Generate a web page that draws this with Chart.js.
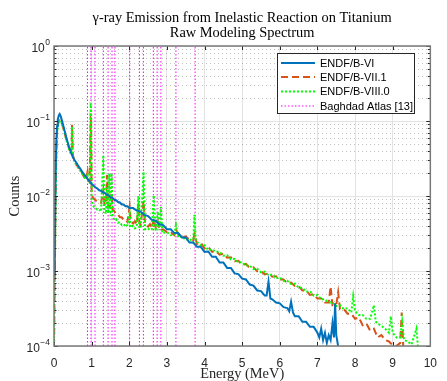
<!DOCTYPE html>
<html>
<head>
<meta charset="utf-8">
<script src="https://cdn.jsdelivr.net/npm/chart.js@4.4.1/dist/chart.umd.min.js"></script>
<style>
  html, body { margin: 0; padding: 0; background: #fff; }
  canvas { display: block; }
</style>
</head>
<body>
<canvas id="chart" width="447" height="381"></canvas>
<script>
// ===== data =====
// ENDF/B-VI
const eVI = [0, 0.02, 0.04, 0.06, 0.08, 0.10, 0.13, 0.15, 0.18, 0.22, 0.26, 0.30, 0.35, 0.40, 0.45, 0.50,
  0.55, 0.60, 0.65, 0.70, 0.75, 0.80, 0.85, 0.90, 0.95, 1.00, 1.05, 1.10, 1.15, 1.20, 1.25, 1.30, 1.35,
  1.40, 1.45, 1.50, 1.55, 1.60, 1.65, 1.70, 1.75, 1.80, 1.85, 1.90, 1.95, 2.00, 2.10, 2.20, 2.30, 2.40,
  2.50, 2.60, 2.70, 2.80, 2.90, 3.00, 3.10, 3.20, 3.30, 3.40, 3.50, 3.60, 3.70, 3.80, 3.90, 4.00, 4.10,
  4.20, 4.30, 4.40, 4.50, 4.60, 4.70, 4.80, 4.90, 5.00, 5.10, 5.20, 5.30, 5.40, 5.50, 5.60, 5.65, 5.70,
  5.75, 5.80, 5.90, 6.00, 6.10, 6.20, 6.25, 6.30, 6.35, 6.40, 6.50, 6.60, 6.70, 6.80, 6.90, 7.00, 7.05,
  7.10, 7.15, 7.20, 7.25, 7.30, 7.35, 7.40, 7.44, 7.47, 7.50, 7.55];
const cVI = [9e-4, 1.5e-3, 0.015, 0.05, 0.085, 0.105, 0.12, 0.124, 0.115, 0.098, 0.082, 0.068, 0.055, 0.045, 0.038, 0.033,
  0.030, 0.0275, 0.025, 0.023, 0.021, 0.0195, 0.018, 0.0166, 0.0155, 0.0145, 0.0138, 0.0131, 0.0126, 0.0119, 0.0117, 0.0112, 0.0110,
  0.0104, 0.0102, 0.0096, 0.0095, 0.0089, 0.0088, 0.0083, 0.0082, 0.0077, 0.0077, 0.0073, 0.0073, 0.0069, 0.0069, 0.0064, 0.0062, 0.0056,
  0.0054, 0.0048, 0.0047, 0.0042, 0.0041, 0.0036, 0.0036, 0.0032, 0.0032, 0.0028, 0.0028, 0.0024, 0.0024, 0.0021, 0.0021, 0.0018, 0.00182,
  0.00155, 0.00155, 0.0013, 0.0013, 0.0011, 0.0011, 0.00093, 0.00091, 0.00079, 0.00077, 0.00066, 0.00064, 0.00055, 0.00054, 0.00047, 0.00047, 0.00072,
  0.00043, 0.00042, 0.00038, 0.00037, 0.00033, 0.00032, 0.00029, 0.00039, 0.00028, 0.00025, 0.00025, 0.00021, 0.00021, 0.00018, 0.00018, 0.00015, 0.00013,
  0.00017, 0.00012, 0.00015, 0.00011, 0.00014, 0.00012, 0.0002, 0.00013, 0.00037, 0.00014, 0.0001];

// ENDF/B-VII.1
const eVII = [0, 0.02, 0.04, 0.06, 0.08, 0.10, 0.13, 0.16, 0.19, 0.22, 0.26, 0.30, 0.35, 0.40, 0.45, 0.47, 0.48,
  0.50, 0.52, 0.55, 0.60, 0.65, 0.70, 0.75, 0.80, 0.85, 0.89, 0.91, 0.95, 0.975, 0.985, 1.00, 1.03, 1.06, 1.10, 1.15,
  1.20, 1.25, 1.31, 1.34, 1.38, 1.41, 1.44, 1.48, 1.53, 1.56, 1.60, 1.65, 1.70, 1.75, 1.80, 1.85, 1.90, 1.95,
  2.01, 2.04, 2.10, 2.15, 2.20, 2.24, 2.27, 2.30, 2.38, 2.42, 2.50, 2.55, 2.60, 2.65, 2.70, 2.76, 2.80, 2.90,
  3.00, 3.10, 3.20, 3.24, 3.30, 3.40, 3.50, 3.60, 3.70, 3.73, 3.80, 3.90, 4.00, 4.10, 4.20, 4.30, 4.40, 4.50,
  4.60, 4.70, 4.80, 4.90, 5.00, 5.10, 5.20, 5.30, 5.40, 5.50, 5.60, 5.70, 5.80, 5.90, 6.00, 6.10, 6.20, 6.30,
  6.40, 6.50, 6.60, 6.70, 6.80, 6.90, 7.00, 7.10, 7.20, 7.30, 7.35, 7.40, 7.50, 7.55, 7.60, 7.70, 7.80, 7.90,
  8.00, 8.10, 8.20, 8.30, 8.40, 8.50, 8.60, 8.70, 8.80, 8.90, 9.00, 9.10, 9.20, 9.24, 9.28];
const cVII = [1e-4, 8e-4, 0.008, 0.035, 0.07, 0.088, 0.10, 0.105, 0.10, 0.09, 0.077, 0.064, 0.052, 0.043, 0.037, 0.045, 0.089,
  0.036, 0.032, 0.029, 0.026, 0.024, 0.022, 0.020, 0.018, 0.017, 0.021, 0.016, 0.0155, 0.105, 0.10, 0.011, 0.0095, 0.0092, 0.0088, 0.0086,
  0.0082, 0.0081, 0.012, 0.0078, 0.0076, 0.019, 0.0072, 0.0071, 0.011, 0.0066, 0.0063, 0.0058, 0.0057, 0.0052, 0.0052, 0.0048, 0.0048, 0.0045,
  0.0072, 0.0046, 0.0043, 0.0046, 0.0042, 0.0078, 0.0044, 0.0041, 0.0085, 0.0042, 0.0039, 0.0042, 0.0037, 0.005, 0.0038, 0.0045, 0.0035, 0.0036,
  0.0033, 0.0033, 0.0030, 0.0036, 0.0031, 0.0028, 0.0029, 0.0026, 0.0026, 0.0031, 0.0023, 0.0024, 0.0020, 0.0021, 0.0018, 0.00185, 0.00165, 0.0017,
  0.0015, 0.00152, 0.00135, 0.00137, 0.0012, 0.00124, 0.0011, 0.00112, 0.00099, 0.001, 0.0009, 0.00093, 0.00084, 0.00085, 0.00077, 0.00077, 0.00069, 0.0007,
  0.00063, 0.00063, 0.00055, 0.00055, 0.00048, 0.00049, 0.00043, 0.00043, 0.00038, 0.00038, 0.00062, 0.00035, 0.00035, 0.00052, 0.00031, 0.00031, 0.00027, 0.00027,
  0.00023, 0.00024, 0.00019, 0.0002, 0.00016, 0.00017, 0.00013, 0.00014, 0.00012, 0.000115, 0.000102, 0.0001, 0.00011, 0.00028, 0.0001];

// ENDF/B-VIII.0
const eVIII = [0, 0.02, 0.04, 0.06, 0.08, 0.10, 0.13, 0.16, 0.19, 0.22, 0.26, 0.30, 0.35, 0.40, 0.45, 0.47, 0.48,
  0.50, 0.52, 0.55, 0.60, 0.65, 0.70, 0.75, 0.80, 0.85, 0.89, 0.91, 0.95, 0.975, 0.985, 1.00, 1.03, 1.06, 1.10, 1.15,
  1.20, 1.25, 1.31, 1.34, 1.38, 1.41, 1.44, 1.47, 1.50, 1.53, 1.56, 1.60, 1.65, 1.70, 1.75, 1.80, 1.85, 1.90,
  1.95, 2.01, 2.04, 2.10, 2.15, 2.20, 2.24, 2.27, 2.30, 2.38, 2.42, 2.50, 2.55, 2.60, 2.65, 2.70, 2.76, 2.80,
  2.84, 2.88, 3.00, 3.10, 3.20, 3.24, 3.30, 3.40, 3.50, 3.60, 3.70, 3.73, 3.77, 3.90, 4.00, 4.10, 4.20, 4.30,
  4.40, 4.50, 4.60, 4.70, 4.80, 4.90, 5.00, 5.10, 5.20, 5.30, 5.40, 5.50, 5.60, 5.70, 5.80, 5.90, 6.00, 6.10,
  6.20, 6.30, 6.40, 6.50, 6.60, 6.70, 6.80, 6.90, 7.00, 7.10, 7.20, 7.30, 7.40, 7.50, 7.60, 7.70, 7.80, 7.90,
  7.95, 8.00, 8.10, 8.20, 8.30, 8.40, 8.50, 8.55, 8.60, 8.70, 8.80, 8.90, 8.95, 9.00, 9.10, 9.20, 9.25, 9.30,
  9.40, 9.50, 9.63, 9.67];
const cVIII = [1e-4, 7e-4, 0.007, 0.033, 0.068, 0.086, 0.098, 0.103, 0.098, 0.089, 0.076, 0.063, 0.051, 0.042, 0.036, 0.044, 0.085,
  0.035, 0.031, 0.028, 0.0255, 0.0235, 0.0215, 0.0196, 0.0178, 0.0166, 0.019, 0.0155, 0.015, 0.155, 0.15, 0.009, 0.0075, 0.0072, 0.0070, 0.0066,
  0.0067, 0.0062, 0.035, 0.0063, 0.0058, 0.013, 0.0059, 0.020, 0.0054, 0.020, 0.0054, 0.0048, 0.0049, 0.0044, 0.0045, 0.0041, 0.0042, 0.0039,
  0.0041, 0.0058, 0.0038, 0.0040, 0.0037, 0.0039, 0.010, 0.0037, 0.0038, 0.021, 0.0036, 0.0037, 0.0035, 0.0036, 0.0102, 0.0034, 0.0062, 0.0035,
  0.0072, 0.0032, 0.0033, 0.0030, 0.0031, 0.0041, 0.0028, 0.0029, 0.0026, 0.0027, 0.0024, 0.0056, 0.0025, 0.0022, 0.0022, 0.0019, 0.00195, 0.0018,
  0.0018, 0.0016, 0.00162, 0.00143, 0.00145, 0.0013, 0.00131, 0.00118, 0.00118, 0.00106, 0.00107, 0.00096, 0.00098, 0.00088, 0.0009, 0.0008, 0.00082, 0.00074,
  0.00074, 0.00067, 0.00068, 0.0006, 0.0006, 0.00053, 0.00054, 0.00047, 0.00048, 0.00042, 0.00042, 0.00038, 0.00038, 0.00034, 0.00035, 0.00031, 0.00032, 0.00028,
  0.00046, 0.00029, 0.00026, 0.00026, 0.00023, 0.00023, 0.00035, 0.00021, 0.0002, 0.000185, 0.00017, 0.00015, 0.00025, 0.00015, 0.00013, 0.00013, 0.00021, 0.00012,
  0.000115, 0.000105, 0.00017, 0.0001];

// Baghdad Atlas line energies (MeV)
const baghdadLines = [0.889, 0.983, 1.09, 1.312, 1.437, 1.542, 1.62, 2.01, 2.27, 2.375, 2.64, 2.74, 2.84, 3.24, 3.75];

// decades shown on the y axis
const yExponents = [0, -1, -2, -3, -4];

// ===== helpers =====
const sans = '"Liberation Sans", Arial, Helvetica, sans-serif';
const serif = '"Liberation Serif", "Times New Roman", serif';
const axisColor = '#262626';

function pts(es, cs) {
  return es.map((e, i) => ({ x: e, y: cs[i] }));
}

function isDecade(v) {
  const l = Math.log10(v);
  return Math.abs(l - Math.round(l)) < 1e-6;
}

const atlasPts = [];
baghdadLines.forEach(e => {
  atlasPts.push({ x: e, y: 1e-4 }, { x: e, y: 1 }, { x: e, y: null });
});

// ===== matlab-like axes: minor grid, box, inner ticks, labels, legend =====
const matlabAxes = {
  id: 'matlabAxes',
  beforeDatasetsDraw(chart) {
    const { ctx, chartArea: a, scales: { y } } = chart;
    ctx.save();
    ctx.strokeStyle = 'rgba(0,0,0,0.25)';
    ctx.lineWidth = 1;
    ctx.setLineDash([1, 3]);
    for (let n = -4; n < 0; n++) {
      for (let k = 2; k <= 9; k++) {
        const py = Math.round(y.getPixelForValue(k * Math.pow(10, n))) + 0.5;
        ctx.beginPath();
        ctx.moveTo(a.left, py);
        ctx.lineTo(a.right, py);
        ctx.stroke();
      }
    }
    ctx.restore();
  },
  afterDatasetsDraw(chart) {
    const { ctx, chartArea: a, scales: { x, y } } = chart;
    ctx.save();

    // ticks pointing inward
    ctx.strokeStyle = axisColor;
    ctx.lineWidth = 1;
    x.ticks.forEach(t => {
      const px = Math.round(x.getPixelForValue(t.value)) + 0.5;
      ctx.beginPath();
      ctx.moveTo(px, a.bottom); ctx.lineTo(px, a.bottom - 4);
      ctx.moveTo(px, a.top); ctx.lineTo(px, a.top + 4);
      ctx.stroke();
    });
    for (let n = -4; n <= 0; n++) {
      for (let k = 1; k <= 9; k++) {
        const v = k * Math.pow(10, n);
        if (v > 1) break;
        const py = Math.round(y.getPixelForValue(v)) + 0.5;
        const len = k === 1 ? 4 : 2.5;
        ctx.beginPath();
        ctx.moveTo(a.left, py); ctx.lineTo(a.left + len, py);
        ctx.moveTo(a.right, py); ctx.lineTo(a.right - len, py);
        ctx.stroke();
      }
    }

    // box
    ctx.strokeStyle = '#7a7a7a';
    ctx.lineWidth = 1.5;
    ctx.strokeRect(a.left, a.top, a.right - a.left, a.bottom - a.top);

    // y tick labels 10^n
    ctx.fillStyle = axisColor;
    ctx.textBaseline = 'middle';
    yExponents.forEach(n => {
      const py = y.getPixelForValue(Math.pow(10, n));
      const ex = String(n).replace('-', '\u2212');
      ctx.font = '8.5px ' + sans;
      ctx.textAlign = 'right';
      const exW = ctx.measureText(ex).width;
      const right = a.left - 4;
      ctx.fillText(ex, right, py - 3);
      ctx.font = '12px ' + sans;
      ctx.fillText('10', right - exW - 0.5, py + 2.5);
    });

    // legend
    const lx = 277, ly = 53, lw = 137, lh = 60;
    ctx.fillStyle = '#fff';
    ctx.fillRect(lx, ly, lw, lh);
    ctx.strokeStyle = '#262626';
    ctx.lineWidth = 1;
    ctx.strokeRect(lx + 0.5, ly + 0.5, lw, lh);
    const rows = [63, 77, 91.5, 106];
    chart.data.datasets.forEach((ds, i) => {
      const ry = rows[i];
      ctx.strokeStyle = ds.borderColor;
      ctx.lineWidth = ds.borderWidth;
      ctx.setLineDash(ds.borderDash || []);
      ctx.beginPath();
      ctx.moveTo(lx + 4, ry);
      ctx.lineTo(lx + 38, ry);
      ctx.stroke();
      ctx.setLineDash([]);
      ctx.fillStyle = '#000';
      ctx.font = '11px ' + sans;
      ctx.textAlign = 'left';
      ctx.textBaseline = 'middle';
      ctx.fillText(ds.label, lx + 43, ry + 0.5);
    });

    ctx.restore();
  }
};

// ===== chart =====
const ctx = document.getElementById('chart');

new Chart(ctx, {
  type: 'line',
  data: {
    datasets: [
      { label: 'ENDF/B-VI', data: pts(eVI, cVI), borderColor: '#0072BD', borderWidth: 2, order: 0 },
      { label: 'ENDF/B-VII.1', data: pts(eVII, cVII), borderColor: '#D95319', borderWidth: 2, borderDash: [7, 4], order: 2 },
      { label: 'ENDF/B-VIII.0', data: pts(eVIII, cVIII), borderColor: '#00FF00', borderWidth: 2, borderDash: [2, 2], order: 1 },
      { label: 'Baghdad Atlas [13]', data: atlasPts, borderColor: '#FF00FF', borderWidth: 1, borderDash: [1.5, 2], order: 3 }
    ]
  },
  options: {
    responsive: false,
    animation: false,
    devicePixelRatio: 1,
    elements: { point: { radius: 0 }, line: { tension: 0, fill: false } },
    layout: { padding: { left: 0, right: 6, top: 0, bottom: 0 } },
    plugins: {
      legend: { display: false },
      tooltip: { enabled: false },
      title: {
        display: true,
        fullSize: false,
        text: ['\u03b3-ray Emission from Inelastic Reaction on Titanium', 'Raw Modeling Spectrum'],
        font: { family: serif, size: 14.4, weight: 'normal', lineHeight: 15.5 / 14.4 },
        color: '#000',
        padding: { top: 10, bottom: 5 }
      }
    },
    scales: {
      x: {
        type: 'linear',
        min: 0,
        max: 10,
        ticks: { stepSize: 1, font: { family: sans, size: 12 }, color: axisColor, padding: 10, maxRotation: 0 },
        grid: { color: '#e3e3e3', drawTicks: false },
        border: { display: false },
        title: { display: true, text: 'Energy (MeV)', font: { family: serif, size: 14.4, lineHeight: 1 }, color: axisColor, padding: { top: 0, bottom: 0 } },
        afterFit(s) { s.height = 35; }
      },
      y: {
        type: 'logarithmic',
        min: 1e-4,
        max: 1,
        ticks: { display: false },
        grid: { color: c => isDecade(c.tick.value) ? '#e3e3e3' : 'rgba(0,0,0,0)', drawTicks: false },
        border: { display: false },
        title: { display: true, text: 'Counts', font: { family: serif, size: 14.4 }, color: axisColor, padding: { top: 7, bottom: 0 } },
        afterFit(s) { s.width = 54; }
      }
    }
  },
  plugins: [matlabAxes]
});
</script>
</body>
</html>
